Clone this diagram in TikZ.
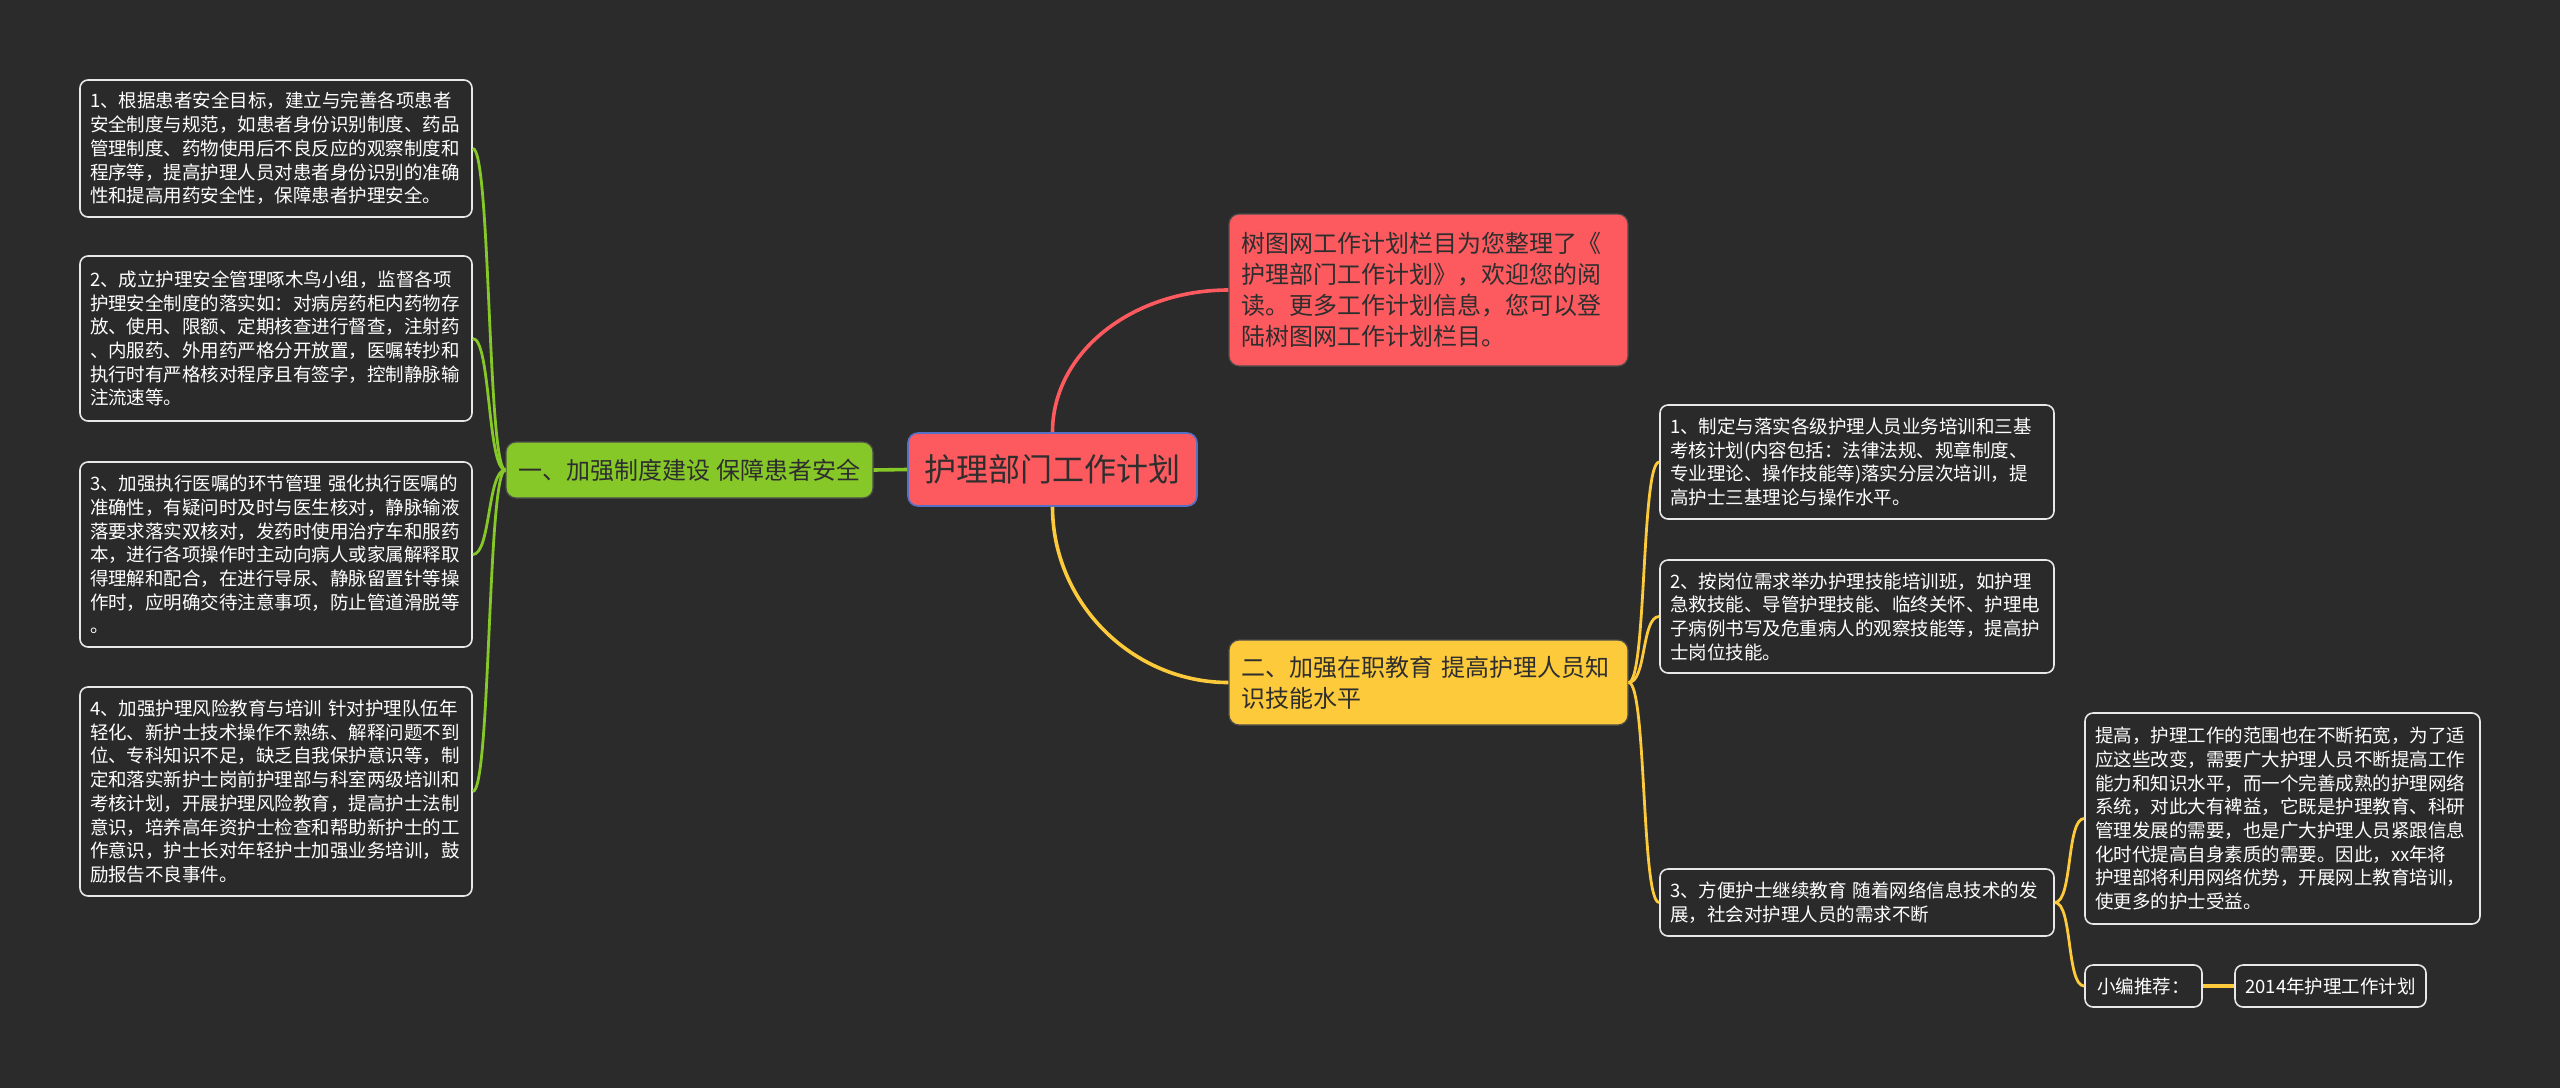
\documentclass[tikz,border=0pt]{standalone}
\usepackage{fontspec}
\setmainfont{Noto Sans CJK SC}
\definecolor{bgc}{HTML}{2B2B2B}
\definecolor{boxfill}{HTML}{2A2A2A}
\definecolor{boxline}{HTML}{E8E8E8}
\definecolor{redc}{HTML}{FC5A5F}
\definecolor{greenc}{HTML}{86C827}
\definecolor{yellowc}{HTML}{FCCA3B}
\definecolor{bluec}{HTML}{5670C8}
\definecolor{darktext}{HTML}{2E2E2E}
\tikzset{
  darkbox/.style={draw=boxline, fill=boxfill, line width=0.8pt, rounded corners=4pt,
    text=white, font=\fontsize{9.25pt}{11.85pt}\selectfont, align=left,
    inner xsep=5pt, inner ysep=0pt},
  colbox/.style={draw=black!70, line width=0.6pt, rounded corners=5pt, text=darktext,
    font=\fontsize{12pt}{15.5pt}\selectfont, align=left, inner xsep=6pt, inner ysep=0pt},
  gline/.style={draw=greenc, line width=1.4pt},
  yline/.style={draw=yellowc, line width=1.4pt},
}
\begin{document}
\begin{tikzpicture}[x=0.5pt,y=-0.5pt]
\fill[bgc] (0,0) rectangle (2560,1088);
\useasboundingbox (0,0) rectangle (2560,1088);

% center
\node[draw=bluec, fill=redc, line width=0.8pt, rounded corners=5pt, text=darktext,
  font=\fontsize{16pt}{18pt}\selectfont, minimum width=144.5pt, minimum height=36.5pt,
  inner sep=0pt] (C) at (1052.5,469.5) {护理部门工作计划};

% green branch
\node[colbox, fill=greenc, align=center, minimum width=183.5pt, minimum height=28pt,
  inner sep=0pt] (G) at (689.5,470) {一、加强制度建设 保障患者安全};

\node[darkbox, text width=186pt, minimum height=68.5pt] (L1) at (276,148.5) {1、根据患者安全目标，建立与完善各项患者\\安全制度与规范，如患者身份识别制度、药品\\管理制度、药物使用后不良反应的观察制度和\\程序等，提高护理人员对患者身份识别的准确\\性和提高用药安全性，保障患者护理安全。};
\node[darkbox, text width=186pt, minimum height=82.5pt] (L2) at (276,338.5) {2、成立护理安全管理啄木鸟小组，监督各项\\护理安全制度的落实如：对病房药柜内药物存\\放、使用、限额、定期核查进行督查，注射药\\、内服药、外用药严格分开放置，医嘱转抄和\\执行时有严格核对程序且有签字，控制静脉输\\注流速等。};
\node[darkbox, text width=186pt, minimum height=92.5pt] (L3) at (276,554.5) {3、加强执行医嘱的环节管理 强化执行医嘱的\\准确性，有疑问时及时与医生核对，静脉输液\\落要求落实双核对，发药时使用治疗车和服药\\本，进行各项操作时主动向病人或家属解释取\\得理解和配合，在进行导尿、静脉留置针等操\\作时，应明确交待注意事项，防止管道滑脱等\\。};
\node[darkbox, text width=186pt, minimum height=104.5pt] (L4) at (276,791.5) {4、加强护理风险教育与培训 针对护理队伍年\\轻化、新护士技术操作不熟练、解释问题不到\\位、专科知识不足，缺乏自我保护意识等，制\\定和落实新护士岗前护理部与科室两级培训和\\考核计划，开展护理风险教育，提高护士法制\\意识，培养高年资护士检查和帮助新护士的工\\作意识，护士长对年轻护士加强业务培训，鼓\\励报告不良事件。};

% red branch
\node[colbox, fill=redc, text width=187.5pt, minimum height=76pt] (R) at (1428.5,290) {树图网工作计划栏目为您整理了《\\护理部门工作计划》，欢迎您的阅\\读。更多工作计划信息，您可以登\\陆树图网工作计划栏目。};

% yellow branch
\node[colbox, fill=yellowc, text width=187.5pt, minimum height=42.5pt] (Y) at (1428.5,682.5) {二、加强在职教育 提高护理人员知\\识技能水平};

\node[darkbox, text width=187pt, minimum height=57pt] (Y1) at (1857,462) {1、制定与落实各级护理人员业务培训和三基\\考核计划(内容包括：法律法规、规章制度、\\专业理论、操作技能等)落实分层次培训，提\\高护士三基理论与操作水平。};
\node[darkbox, text width=187pt, minimum height=56.5pt] (Y2) at (1857,616.5) {2、按岗位需求举办护理技能培训班，如护理\\急救技能、导管护理技能、临终关怀、护理电\\子病例书写及危重病人的观察技能等，提高护\\士岗位技能。};
\node[darkbox, text width=187pt, minimum height=33.5pt] (Y3) at (1857,902.5) {3、方便护士继续教育 随着网络信息技术的发\\展，社会对护理人员的需求不断};

\node[darkbox, text width=187.5pt, minimum height=105.5pt] (F) at (2282.5,818.5) {提高，护理工作的范围也在不断拓宽，为了适\\应这些改变，需要广大护理人员不断提高工作\\能力和知识水平，而一个完善成熟的护理网络\\系统，对此大有裨益，它既是护理教育、科研\\管理发展的需要，也是广大护理人员紧跟信息\\化时代提高自身素质的需要。因此，xx年将\\护理部将利用网络优势，开展网上教育培训，\\使更多的护士受益。};
\node[darkbox, align=center, inner sep=0pt, minimum width=58.5pt, minimum height=21pt] (XB) at (2143.5,986) {小编推荐：};
\node[darkbox, align=center, inner sep=0pt, minimum width=95.5pt, minimum height=21pt] (T) at (2330.5,986) {2014年护理工作计划};

% connectors
\draw[draw=redc, line width=1.8pt] (C.north) to[out=90,in=180,out distance=40pt,in distance=48pt] (R.west);
\draw[draw=yellowc, line width=1.8pt] (C.south) to[out=-90,in=180,out distance=48pt,in distance=48pt] (Y.west);
\draw[draw=greenc, line width=1.8pt] (C.west) -- (G.east);

\foreach \n in {L1,L2,L3,L4}
  \draw[gline] (G.west) to[out=180,in=0,distance=9pt] (\n.east);
\foreach \n in {Y1,Y2,Y3}
  \draw[yline] (Y.east) to[out=0,in=180,distance=9pt] (\n.west);
\foreach \n in {F,XB}
  \draw[yline] (Y3.east) to[out=0,in=180,distance=9pt] (\n.west);
\draw[yline, line width=1.6pt] (XB.east) -- (T.west);
\end{tikzpicture}
\end{document}
